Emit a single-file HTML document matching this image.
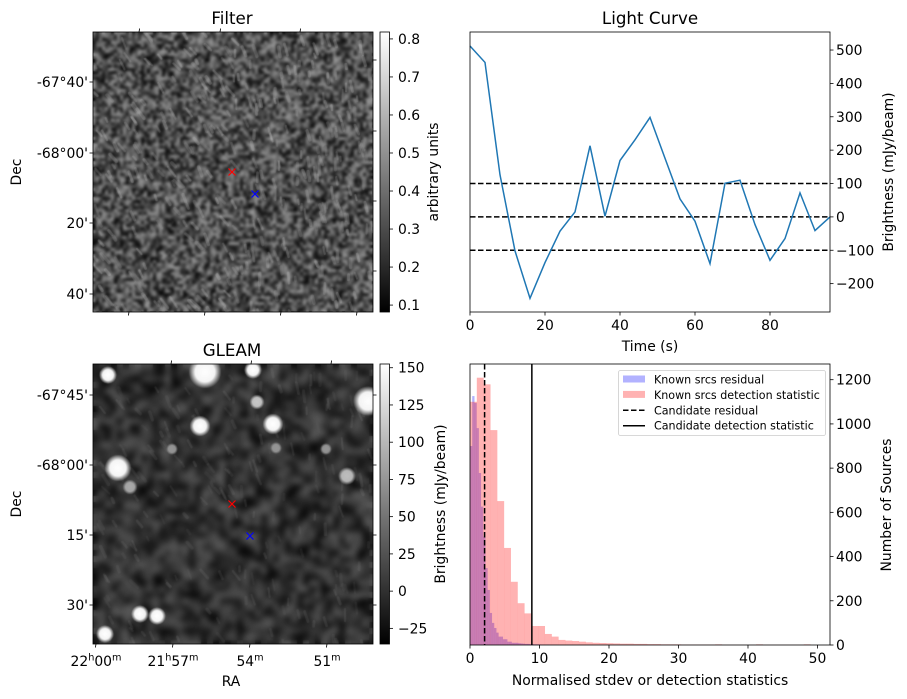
<!DOCTYPE html>
<html><head><meta charset="utf-8">
<style>
html,body{margin:0;padding:0;background:#fff;}
#wrap{position:relative;width:907px;height:699px;overflow:hidden;font-family:"DejaVu Sans","Liberation Sans",sans-serif;}
canvas{position:absolute;}
svg{position:absolute;left:0;top:0;}
svg text{font-family:"DejaVu Sans","Liberation Sans",sans-serif;fill:#000;}
</style></head>
<body>
<div id="wrap">
<canvas id="imgTop" width="280" height="280" style="left:93px;top:32px"></canvas>
<canvas id="imgBot" width="280" height="280" style="left:93px;top:364px"></canvas>
<svg id="svg" width="907" height="699"></svg>
</div>
<script>
// ---------- data ----------
const lcTimes = [0,4,8,12,16,20,24,28,32,36,40,44,48,52,56,60,64,68,72,76,80,84,88,92,96];
const lcValues = [512,463,126,-102,-244,-137,-43,15,213,2,169,231,298,176,54,-13,-140,101,110,-23,-130,-65,72,-41,0];
const lcThresholds = [100,0,-100];
const lcXTicks = [0,20,40,60,80];
const lcYTicks = [-200,-100,0,100,200,300,400,500];

const redBinWidth = 0.98;
const redCounts = [1100,1209,1179,972,651,439,286,189,143,86,86,50,38,23,20,18,15,12,10,9,8,7,6,6,5,5,4,4,3,3,3,2,2,2,2,2,3,1,1,1,1,1,3,1,1,1,1,1,1,3];
const blueBinWidth = 0.316;
const blueCounts = [900,1126,1095,981,778,626,490,348,249,145,100,77,56,38,38,26,26,15,15,10,10,10,8,7,6,5,5,4,4,3,3,3,2,2,2,2,1,1,1,1];
const candResidual = [2.1];
const candDetection = [8.9];
const hXTicks = [0,10,20,30,40,50];
const hYTicks = [0,200,400,600,800,1000,1200];

const cbTopTicks = [0.1,0.2,0.3,0.4,0.5,0.6,0.7,0.8];
const cbBotTicks = [-25,0,25,50,75,100,125,150];

const FS = '13.9px';
// ---------- helpers ----------
const svg = document.getElementById('svg');
const NS = 'http://www.w3.org/2000/svg';
function mk(tag, attrs, parent){
  const e = document.createElementNS(NS, tag);
  for (const k in attrs) e.setAttribute(k, attrs[k]);
  (parent||svg).appendChild(e);
  return e;
}
function txt(x,y,s,anchor,extra){
  const t = mk('text',Object.assign({x:x,y:y,'text-anchor':anchor||'middle','font-size':FS},extra||{}));
  t.textContent = s;
  return t;
}

// ---------- light curve ----------
const lc = {x0:470,x1:830,y0:32,y1:312,xmin:0,xmax:96,ymin:-285,ymax:554};
const lcX = v => lc.x0 + (v-lc.xmin)/(lc.xmax-lc.xmin)*(lc.x1-lc.x0);
const lcY = v => lc.y1 - (v-lc.ymin)/(lc.ymax-lc.ymin)*(lc.y1-lc.y0);
{
  const g = mk('g',{});
  
  
  lcThresholds.forEach((v,i)=>{
    const l = mk('line',{x1:lc.x0,x2:lc.x1,y1:lcY(v),y2:lcY(v),stroke:'#000','stroke-width':1.5,'stroke-dasharray':'5.5,2.5'},g);
    
    
  });
  const pts = lcTimes.map((t,i)=>lcX(t).toFixed(1)+','+lcY(lcValues[i]).toFixed(1)).join(' ');
  const pl = mk('polyline',{points:pts,fill:'none',stroke:'#1f77b4','stroke-width':1.5},g);
  
  
  mk('rect',{x:lc.x0,y:lc.y0,width:lc.x1-lc.x0,height:lc.y1-lc.y0,fill:'none',stroke:'#000','stroke-width':0.8},g);
  lcXTicks.forEach(v=>{
    mk('line',{x1:lcX(v),x2:lcX(v),y1:lc.y1,y2:lc.y1+3.5,stroke:'#000','stroke-width':0.8},g);
    const t = txt(lcX(v),lc.y1+18,String(v));
    
    
  });
  lcYTicks.forEach(v=>{
    mk('line',{x1:lc.x1,x2:lc.x1+3.5,y1:lcY(v),y2:lcY(v),stroke:'#000','stroke-width':0.8},g);
    const t = txt(lc.x1+6,lcY(v)+5,String(v).replace('-','\u2212'),'start');
    
    
  });
  const ti = txt(650,24,'Light Curve','middle',{'font-size':'16.7px'});
  
  
  const xl = txt(650,351,'Time (s)');
  
  
  const yl = txt(0,0,'Brightness (mJy/beam)','middle',{transform:'translate(893,172) rotate(-90)'});
  
  
}

// ---------- histogram ----------
const h = {x0:470,x1:830,y0:364,y1:645,xmin:0,xmax:51.8,ymin:0,ymax:1271};
const hX = v => h.x0 + (v-h.xmin)/(h.xmax-h.xmin)*(h.x1-h.x0);
const hY = v => h.y1 - (v-h.ymin)/(h.ymax-h.ymin)*(h.y1-h.y0);
{
  const g = mk('g',{});
  
  
  blueCounts.forEach((c,i)=>{
    const r = mk('rect',{x:hX(i*blueBinWidth),y:hY(c),width:hX((i+1)*blueBinWidth)-hX(i*blueBinWidth)+0.1,height:hY(0)-hY(c),fill:'rgba(0,0,255,0.3)'},g);
    
    
  });
  redCounts.forEach((c,i)=>{
    const r = mk('rect',{x:hX(i*redBinWidth),y:hY(c),width:hX((i+1)*redBinWidth)-hX(i*redBinWidth)+0.1,height:hY(0)-hY(c),fill:'rgba(255,0,0,0.3)'},g);
    
    
  });
  candResidual.forEach(v=>{
    const l = mk('line',{x1:hX(v),x2:hX(v),y1:h.y0,y2:h.y1,stroke:'#000','stroke-width':1.5,'stroke-dasharray':'5.5,2.5'},g);
    
    
  });
  candDetection.forEach(v=>{
    const l = mk('line',{x1:hX(v),x2:hX(v),y1:h.y0,y2:h.y1,stroke:'#000','stroke-width':1.5},g);
    
    
  });
  mk('rect',{x:h.x0,y:h.y0,width:h.x1-h.x0,height:h.y1-h.y0,fill:'none',stroke:'#000','stroke-width':0.8},g);
  hXTicks.forEach(v=>{
    mk('line',{x1:hX(v),x2:hX(v),y1:h.y1,y2:h.y1+3.5,stroke:'#000','stroke-width':0.8},g);
    const t = txt(hX(v),h.y1+18,String(v));
    
    
  });
  hYTicks.forEach(v=>{
    mk('line',{x1:h.x1,x2:h.x1+3.5,y1:hY(v),y2:hY(v),stroke:'#000','stroke-width':0.8},g);
    const t = txt(h.x1+6,hY(v)+5,String(v),'start');
    
    
  });
  const xl = txt(650,685,'Normalised stdev or detection statistics');
  
  
  const yl = txt(0,0,'Number of Sources','middle',{transform:'translate(891,505) rotate(-90)'});
  
  
  const lg = mk('g',{});
  
  
  mk('rect',{x:618.5,y:370.5,width:207,height:65,rx:2,fill:'rgba(255,255,255,0.8)',stroke:'#ccc','stroke-width':0.8},lg);
  const items = [['Known srcs residual','blue'],['Known srcs detection statistic','red'],['Candidate residual','dash'],['Candidate detection statistic','solid']];
  items.forEach((it,i)=>{
    const y = 379.5 + i*15.4;
    if(it[1]==='blue') mk('rect',{x:623,y:y-4,width:22,height:7,fill:'rgba(0,0,255,0.3)'},lg);
    else if(it[1]==='red') mk('rect',{x:623,y:y-4,width:22,height:7,fill:'rgba(255,0,0,0.3)'},lg);
    else mk('line',{x1:623,x2:645,y1:y,y2:y,stroke:'#000','stroke-width':1.5,'stroke-dasharray':it[1]==='dash'?'5.5,2.5':'none'},lg);
    const t = txt(654,y+4,it[0],'start',{'font-size':'11.1px'});
    
    
  });
}

// ---------- image axes ----------
function imageAxes(top, title, leftTicks, leftLabels, rightTicks, topTicks, botTicks, botLabels, cbTicks, cbMin, cbMax, cbLabel, cbLabelX, name){
  const g = mk('g',{});
  
  
  const x0=93,x1=373,y0=top,y1=top+280;
  mk('rect',{x:x0,y:y0,width:280,height:280,fill:'none',stroke:'#000','stroke-width':0.8},g);
  leftTicks.forEach((y,i)=>{
    mk('line',{x1:x0-3.5,x2:x0,y1:y,y2:y,stroke:'#000','stroke-width':0.8},g);
    const t = txt(x0-5,y+5,leftLabels[i],'end');
    
    
  });
  rightTicks.forEach(y=>mk('line',{x1:x1,x2:x1+3.5,y1:y,y2:y,stroke:'#000','stroke-width':0.8},g));
  topTicks.forEach(x=>mk('line',{x1:x,x2:x+0.6,y1:y0,y2:y0-3.5,stroke:'#000','stroke-width':0.8},g));
  botTicks.forEach((x,i)=>{
    mk('line',{x1:x,x2:x-0.6,y1:y1,y2:y1+3.5,stroke:'#000','stroke-width':0.8},g);
    if(botLabels){
      const t = mk('text',{x:x,y:y1+22,'text-anchor':'middle','font-size':FS},g);
      
      
      botLabels[i].forEach(p=>{
        const ts = mk('tspan',p[1]?{'font-size':'9.7px',dy:'-5.5'}:{dy:p[2]||'0'},t);
        ts.textContent = p[0];
      });
    }
  });
  const ti = txt(232,top-8,title,'middle',{'font-size':'16.7px'});
  
  
  const dl = txt(0,0,'Dec','middle',{transform:'translate(21,'+(top+140)+') rotate(-90)'});
  
  
  const defs = mk('defs',{},g);
  const lgd = mk('linearGradient',{id:'cbg'+name,x1:0,y1:1,x2:0,y2:0},defs);
  mk('stop',{offset:0,'stop-color':'#000'},lgd);
  mk('stop',{offset:1,'stop-color':'#fff'},lgd);
  const cb = mk('rect',{x:380,y:y0,width:9.5,height:280,fill:'url(#cbg'+name+')',stroke:'#000','stroke-width':0.8},g);
  
  
  const cY = v => y1 - (v-cbMin)/(cbMax-cbMin)*280;
  cbTicks.forEach(v=>{
    mk('line',{x1:389.5,x2:393,y1:cY(v),y2:cY(v),stroke:'#000','stroke-width':0.8},g);
    const t = txt(398,cY(v)+5,String(v).replace('-','\u2212'),'start');
    
    
  });
  const cl = txt(0,0,cbLabel,'middle',{transform:'translate('+cbLabelX+','+(top+140)+') rotate(-90)'});
  
  
}
imageAxes(32,'Filter',[82,153,223,294],['-67°40\'','-68°00\'','20\'','40\''],[60,131,201,271],[139,220,300],[129,205,281,357],null,
  cbTopTicks,0.0818,0.8182,'arbitrary units',438,'filter');
imageAxes(364,'GLEAM',[395,465,535,605],['-67°45\'','-68°00\'','15\'','30\''],[395,465,535,605],[171,251,331],[96,173,250,327],
  [[['22'],['h',1],['00',0,'5.5'],['m',1]],[['21'],['h',1],['57',0,'5.5'],['m',1]],[['54'],['m',1]],[['51'],['m',1]]],
  cbBotTicks,-35.5,152.5,'Brightness (mJy/beam)',445,'gleam');
const ral = txt(231,686,'RA');



function cross(x,y,c,n){
  const g = mk('g',{stroke:c,'stroke-width':1.2});
  
  
  mk('line',{x1:x-3.5,y1:y-3.5,x2:x+3.5,y2:y+3.5},g);
  mk('line',{x1:x-3.5,y1:y+3.5,x2:x+3.5,y2:y-3.5},g);
}
cross(232,172,'#f00','candidate-marker-filter');
cross(255,194,'#00f','source-marker-filter');
cross(232,504,'#f00','candidate-marker-gleam');
cross(250,536,'#00f','source-marker-gleam');

// ---------- textures ----------
let seed = 12345;
function rnd(){ seed = (seed*1103515245+12345) & 0x7fffffff; return seed/0x7fffffff; }
function texture(id, base, amp, cell, blur, streak, salpha, sbright, blobs){
  const c = document.getElementById(id), ctx = c.getContext('2d');
  const N = Math.ceil(280/cell)+1;
  for(let j=0;j<N;j++) for(let i=0;i<N;i++){
    const v = Math.max(0,Math.min(255, base + (rnd()-0.5)*amp*2));
    ctx.fillStyle = 'rgb('+(v|0)+','+(v|0)+','+(v|0)+')';
    ctx.fillRect(i*cell,j*cell,cell,cell);
  }
  const tmp = document.createElement('canvas'); tmp.width=280; tmp.height=280;
  const tc = tmp.getContext('2d');
  tc.filter = 'blur('+blur+'px)';
  tc.drawImage(c,0,0);
  ctx.drawImage(tmp,0,0);
  for(let k=0;k<streak;k++){
    const x = rnd()*280, y = rnd()*280;
    const ang = (x<140? 1.0 : 1.4) + (rnd()-0.5)*0.5;
    const L = 4+rnd()*8;
    const v = sbright+rnd()*60;
    ctx.strokeStyle = 'rgba('+(v|0)+','+(v|0)+','+(v|0)+','+salpha+')';
    ctx.lineWidth = 2+rnd()*1.5;
    ctx.lineCap='round';
    ctx.beginPath(); ctx.moveTo(x,y); ctx.lineTo(x+Math.cos(ang)*L, y+Math.sin(ang)*L); ctx.stroke();
  }
  (blobs||[]).forEach(b=>{
    const gr = ctx.createRadialGradient(b[0],b[1],0,b[0],b[1],b[2]*1.5);
    gr.addColorStop(0,'rgba('+b[3]+','+b[3]+','+b[3]+',1)');
    gr.addColorStop(0.6,'rgba('+b[3]+','+b[3]+','+b[3]+',0.95)');
    gr.addColorStop(1,'rgba('+b[3]+','+b[3]+','+b[3]+',0)');
    ctx.fillStyle = gr;
    ctx.beginPath(); ctx.arc(b[0],b[1],b[2]*1.5,0,Math.PI*2); ctx.fill();
  });
}
texture('imgTop',80,75,3,1.5,350,0.3,140,[]);
texture('imgBot',50,45,6,3,200,0.15,100,[
  [15,11,6,255],[112,8,11,255],[160,6,6,255],[164,38,5,200],[107,62,7,255],[180,60,7,255],
  [275,37,10,255],[25,104,9,255],[37,123,5,170],[254,112,6,190],[47,250,6,255],[64,252,6,255],
  [12,270,6,255],[79,85,4,150],[183,84,4,150],[233,85,4,150]
]);
</script>
</body></html>
